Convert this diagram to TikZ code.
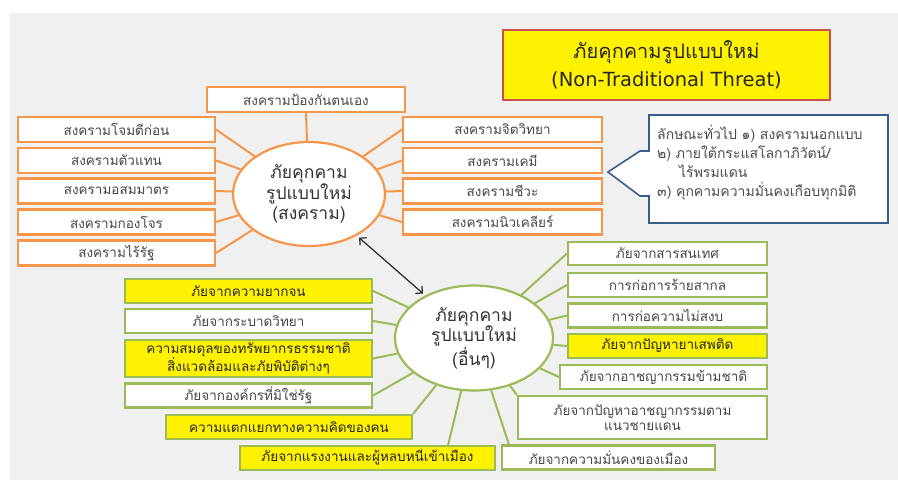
\documentclass[tikz,border=0pt]{standalone}
\usepackage{fontspec}
\setmainfont[Script=Thai]{Loma}
\newfontfamily\latinfont{DejaVu Sans}
\usetikzlibrary{shapes.geometric,arrows.meta}
\definecolor{warorange}{RGB}{245,150,75}
\definecolor{othgreen}{RGB}{155,187,89}
\definecolor{calloutblue}{RGB}{56,93,138}
\definecolor{titlered}{RGB}{200,80,77}
\definecolor{pagegray}{RGB}{240,240,240}
\definecolor{boxtext}{RGB}{70,70,70}
\tikzset{
	warbox/.style={draw=warorange, line width=2.2pt, fill=white, minimum width=197pt, minimum height=25pt, inner sep=0pt, text=boxtext, font=\fontsize{13.5}{14}\selectfont},
	othbox/.style={draw=othgreen, line width=2.2pt, fill=white, minimum width=247pt, minimum height=24pt, inner sep=0pt, text=boxtext, align=center, font=\fontsize{13.5}{14}\selectfont},
	hot/.style={fill=yellow, text=black!85},
	hub/.style={ellipse, fill=white, line width=2.2pt, inner sep=0pt, align=center, text=black!80, font=\fontsize{17.5}{20.5}\selectfont},
	warline/.style={draw=warorange, line width=2pt},
	othline/.style={draw=othgreen, line width=2pt}
}

\begin{document}
\begin{tikzpicture}[x=1pt, y=-1pt]
			%%%%% START %%%%%
			
			\useasboundingbox (0, 0) rectangle (898, 480);
			\fill[pagegray] (10, 13) rectangle (898, 480);
			
			% title
			\node[draw=titlered, line width=2pt, fill=yellow, minimum width=327pt, minimum height=70pt, inner sep=0pt, align=center, text=black!85] (title) at (666.5, 65)
				{{\fontsize{20}{24}\selectfont ภัยคุกคามรูปแบบใหม่}\\[7pt]{\latinfont\fontsize{19.5}{22}\selectfont (Non-Traditional Threat)}};
			
			% war group
			\node[hub, draw=warorange, minimum width=152pt, minimum height=104pt] (warell) at (309, 194) {ภัยคุกคาม\\รูปแบบใหม่\\(สงคราม)};
			
			\node[warbox, minimum width=198pt] (wartop) at (306, 99.5) {สงครามป้องกันตนเอง};
			
			\node[warbox] (warl1) at (116.5, 129.5) {สงครามโจมตีก่อน};
			\node[warbox] (warl2) at (116.5, 160.5) {สงครามตัวแทน};
			\node[warbox] (warl3) at (116.5, 191) {สงครามอสมมาตร};
			\node[warbox] (warl4) at (116.5, 222) {สงครามกองโจร};
			\node[warbox] (warl5) at (116.5, 253) {สงครามไร้รัฐ};
			
			\node[warbox, minimum width=199pt] (warr1) at (502.5, 129.5) {สงครามจิตวิทยา};
			\node[warbox, minimum width=199pt] (warr2) at (502.5, 160.5) {สงครามเคมี};
			\node[warbox, minimum width=199pt] (warr3) at (502.5, 191) {สงครามชีวะ};
			\node[warbox, minimum width=199pt] (warr4) at (502.5, 222) {สงครามนิวเคลียร์};
			
			\draw[warline] (warell) -- (wartop.south);
			\foreach \i in {1,...,5}
				\draw[warline] (warell) -- (warl\i.east);
			\foreach \i in {1,...,4}
				\draw[warline] (warell) -- (warr\i.west);
			
			% callout
			\draw[calloutblue, line width=1.6pt, fill=white] (649, 115) -- (888, 115) -- (888, 223) -- (649, 223) -- (649, 196) -- (640, 196) -- (608, 172) -- (640, 151) -- (649, 151) -- cycle;
			\node[anchor=north west, align=left, inner sep=0pt, text=black!70, font=\fontsize{14}{19}\selectfont] (traits) at (657, 125)
				{ลักษณะทั่วไป ๑) สงครามนอกแบบ\\๒) ภายใต้กระแสโลกาภิวัตน์/\\\hspace*{22pt}ไร้พรมแดน\\๓) คุกคามความมั่นคงเกือบทุกมิติ};
			
			% other group
			\node[hub, draw=othgreen, minimum width=158pt, minimum height=105pt] (othell) at (474, 338) {ภัยคุกคาม\\รูปแบบใหม่\\(อื่นๆ)};
			
			\node[othbox, hot] (othl1) at (248.5, 291) {ภัยจากความยากจน};
			\node[othbox] (othl2) at (248.5, 321) {ภัยจากระบาดวิทยา};
			\node[othbox, hot, minimum height=37pt] (othl3) at (248.5, 358.5) {ความสมดุลของทรัพยากรธรรมชาติ\\สิ่งแวดล้อมและภัยพิบัติต่างๆ};
			\node[othbox] (othl4) at (248.5, 395.5) {ภัยจากองค์กรที่มิใช่รัฐ};
			\node[othbox, hot, minimum width=246pt] (othl5) at (289, 427) {ความแตกแยกทางความคิดของคน};
			\node[othbox, hot, minimum width=255pt] (othl6) at (367.5, 458) {ภัยจากแรงงานและผู้หลบหนีเข้าเมือง};
			
			\node[othbox, minimum width=199pt, minimum height=23pt] (othr1) at (667.5, 253.5) {ภัยจากสารสนเทศ};
			\node[othbox, minimum width=199pt] (othr2) at (667.5, 285) {การก่อการร้ายสากล};
			\node[othbox, minimum width=199pt] (othr3) at (667.5, 315.5) {การก่อความไม่สงบ};
			\node[othbox, hot, minimum width=199pt] (othr4) at (667.5, 346) {ภัยจากปัญหายาเสพติด};
			\node[othbox, minimum width=207pt] (othr5) at (663.5, 377) {ภัยจากอาชญากรรมข้ามชาติ};
			\node[othbox, minimum width=249pt, minimum height=43pt, font=\fontsize{13.5}{15}\selectfont] (othr6) at (642.5, 417.5) {ภัยจากปัญหาอาชญากรรมตาม\\แนวชายแดน};
			\node[othbox, minimum width=213pt] (othr7) at (608.5, 457.5) {ภัยจากความมั่นคงของเมือง};
			
			\foreach \i in {1,...,4}
				\draw[othline] (othell) -- (othl\i.east);
			\draw[othline] (othell) -- (othl5.north east);
			\draw[othline] (othell) -- ([xshift=-48pt]othl6.north east);
			\foreach \i in {1,...,5}
				\draw[othline] (othell) -- (othr\i.west);
			\draw[othline] (othell) -- (othr6.north west);
			\draw[othline] (othell) -- ([xshift=8pt]othr7.north west);
			
			\draw[{Straight Barb[length=5pt]}-{Straight Barb[length=5pt]}, line width=1.2pt, black!85, shorten <=3pt, shorten >=3pt] (warell) -- (othell);
			
			%%%%% END %%%%%
		\end{tikzpicture}
\end{document}
